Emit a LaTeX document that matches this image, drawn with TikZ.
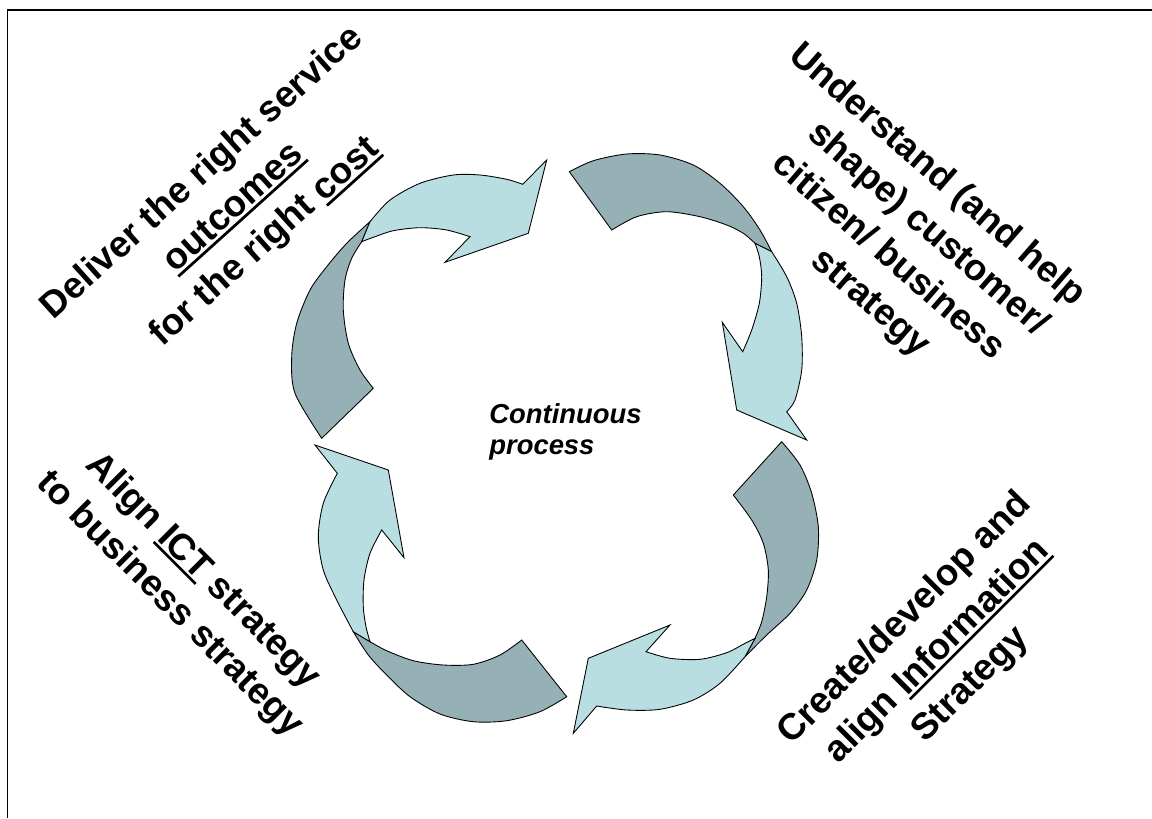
\documentclass[tikz,border=0pt]{standalone}
\usepackage{fontspec}
\setmainfont{Liberation Sans}
\definecolor{tealdark}{RGB}{150,177,181}
\definecolor{teallight}{RGB}{184,222,226}
\newcommand{\ulword}[1]{\setbox0\hbox{#1}\rlap{\rule[-0.15em]{\wd0}{0.075em}}\box0\relax}
\begin{document}
\begin{tikzpicture}[x=0.02cm, y=-0.02cm,
	backside/.style={draw=black, line width=0.5pt, fill=tealdark},
	frontside/.style={draw=black, line width=0.5pt, fill=teallight},
	lbl/.style={font=\fontsize{21}{26.6}\selectfont\bfseries, align=center, inner sep=0pt}]
	\useasboundingbox (0,0) rectangle (1152,818);
	\draw[line width=1pt] (7.5,818)--(7.5,10)--(1152,10);
	% dark tails
	\filldraw[backside] plot[smooth] coordinates {(321.7,438.3) (295,393.3) (291.7,356.7) (296.7,323.3) (310,290) (326.7,266.7) (346.7,243.3) (370,221.7)}
		-- plot[smooth] coordinates {(361.7,241.7) (351.7,258.3) (345,280) (343.3,310) (348.3,343.3) (360,370) (373.3,388.3)} -- cycle;
	\filldraw[backside] plot[smooth] coordinates {(569.3,171.7) (593.3,160.7) (626.7,154) (660,155) (693.3,165) (720,183.3) (743.3,206.7) (760,230) (771.7,251.7)}
		-- plot[smooth] coordinates {(755,243.3) (743.3,233.3) (726.7,225) (700,216.7) (666.7,211.7) (636.7,216.7) (611.7,230)} -- cycle;
	\filldraw[backside] plot[smooth] coordinates {(781.7,441.7) (800,465) (811.7,493.3) (818.3,526.7) (816.7,560) (806.7,590) (790,613.3) (766.7,635) (745,656.7)}
		-- plot[smooth] coordinates {(755,638.3) (761.7,621.7) (766.7,596.7) (768.3,570) (763.3,543.3) (751.7,520) (733.3,495)} -- cycle;
	\filldraw[backside] plot[smooth] coordinates {(566.7,696.7) (540,711.7) (506.7,720.7) (473.3,721.7) (440,714) (410,696.7) (386.7,675) (368.3,655) (353.3,631.7)}
		-- plot[smooth] coordinates {(370,641.7) (386.7,650.7) (413.3,660.7) (443.3,665) (473.3,664.3) (500,655) (521.7,640)} -- cycle;
	% light fronts with heads
	\filldraw[frontside] plot[smooth] coordinates {(370,221.7) (390,200) (420,183.3) (453.3,175) (480,175) (506.7,179.3) (522.7,184.3)}
		-- (546.7,160) -- (528.3,233.3) -- (445,262.3)
		-- plot[smooth] coordinates {(470,236.7) (446.7,230) (420,227.7) (393.3,230.7) (373.3,237.3) (361.7,241.7)} -- cycle;
	\filldraw[frontside] plot[smooth] coordinates {(771.7,251.7) (786.7,276.7) (796.7,303.3) (801.7,336.7) (801.7,370) (795,400) (786.7,411.7)}
		-- (806.7,440) -- (736.7,410) -- (722.3,322.3)
		-- plot[smooth] coordinates {(742.7,351.7) (751.7,330) (759.3,303.3) (761.7,276.7) (759.3,256.7) (755,243.3)} -- cycle;
	\filldraw[frontside] plot[smooth] coordinates {(745,656.7) (720,683.3) (693.3,700) (660,709.3) (626.7,710) (596.7,706)}
		-- (573.3,733.3) -- (588.3,658.3) -- (670,625)
		-- plot[smooth] coordinates {(646,651.7) (670,658.3) (700,659.3) (726.7,652.7) (745,643.3) (755,638.3)} -- cycle;
	\filldraw[frontside] plot[smooth] coordinates {(353.3,631.7) (336.7,600) (323.3,570) (318.3,536.7) (323.3,503.3) (337.3,473.3)}
		-- (315,445) -- (388.3,470) -- (404,557.7)
		-- plot[smooth] coordinates {(381.7,530) (370,553.3) (364,580) (363.3,606.7) (366,626.7) (370,641.7)} -- cycle;
	% labels
	\node[lbl, rotate=42] (deliver) at (234,208) {Deliver the right service\\\ulword{outcomes}\\for the right \ulword{cost}};
	\node[lbl, rotate=-41] (understand) at (903,239) {Understand (and help\hspace*{18pt}\\\hspace*{14pt}shape) customer/\\citizen/ business\\\hspace*{20pt}strategy};
	\node[lbl, rotate=-45] (align) at (186,588) {Align \ulword{ICT} strategy\\to business strategy};
	\node[lbl, rotate=45] (create) at (938,652) {Create/develop and\\align \ulword{Information}\\Strategy};
	\node[anchor=north west, inner sep=0pt, align=left, font=\fontsize{15.6}{18}\selectfont\bfseries\itshape] (cont) at (489,403) {Continuous\\process};
\end{tikzpicture}
\end{document}
